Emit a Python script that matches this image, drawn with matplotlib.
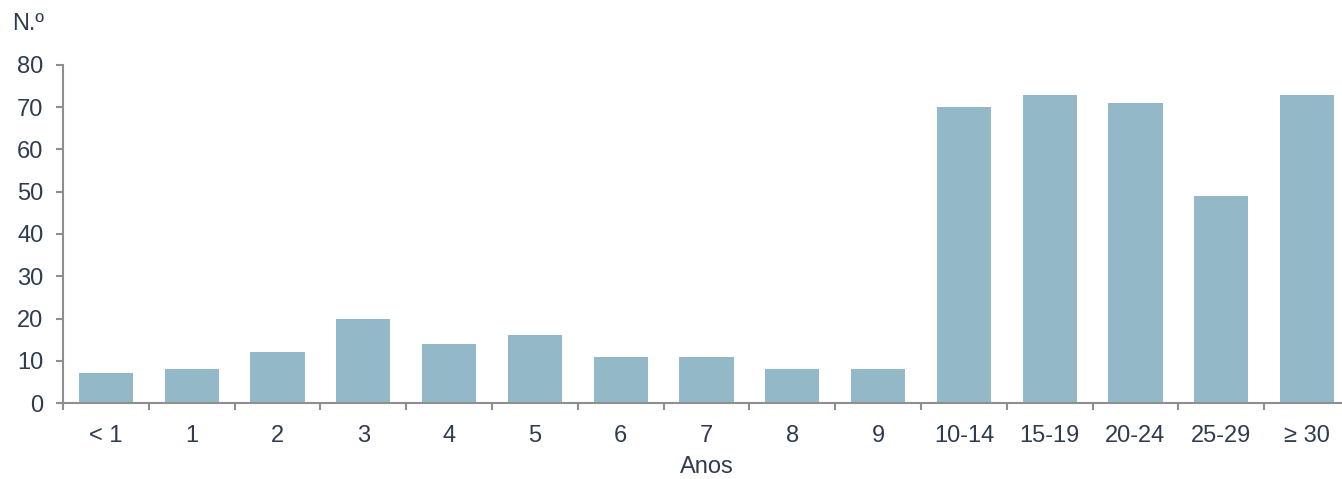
import matplotlib
matplotlib.use("Agg")
import matplotlib.pyplot as plt
import numpy as np

categories = ["< 1", "1", "2", "3", "4", "5", "6", "7", "8", "9",
              "10-14", "15-19", "20-24", "25-29", "≥ 30"]
values = [7, 8, 12, 20, 14, 16, 11, 11, 8, 8, 70, 73, 71, 49, 73]
yticks = [0, 10, 20, 30, 40, 50, 60, 70, 80]

plt.rcParams['font.family'] = ['Liberation Sans', 'DejaVu Sans']
text_color = "#2E3B50"
spine_color = "#8E8E8E"
bar_color = "#93B9C8"

fig = plt.figure(figsize=(13.42, 4.79), dpi=100)
W, H = 1342, 479
left, right, bottom, top = 63, 1350, 403, 65
ax = fig.add_axes([left / W, (H - bottom) / H, (right - left) / W, (bottom - top) / H])

x = np.arange(len(categories))
ax.bar(x, values, width=0.63, color=bar_color, zorder=2)

ax.set_xlim(-0.5, len(categories) - 0.5)
ax.set_ylim(0, 80)
ax.set_yticks(yticks)
ax.set_xticks(x)
ax.set_xticklabels(categories)
ax.set_xticks(np.arange(-0.5, len(categories), 1.0), minor=True)

for s in ["top", "right"]:
    ax.spines[s].set_visible(False)
for s in ["left", "bottom"]:
    ax.spines[s].set_color(spine_color)
    ax.spines[s].set_linewidth(1.5)

ax.tick_params(axis='x', which='major', length=0, pad=16, labelsize=17, labelcolor=text_color)
ax.tick_params(axis='x', which='minor', length=5, width=1.5, color=spine_color, direction='out')
ax.tick_params(axis='y', which='major', length=5, width=1.5, color=spine_color, pad=9,
               labelsize=17, labelcolor=text_color)

ax.set_xlabel("Anos", fontsize=17, color=text_color, labelpad=6)
fig.text(12 / W, 1 - 24 / H, "N.º", fontsize=17, color=text_color, va='center', ha='left')

fig.savefig("out.png", dpi=100)
